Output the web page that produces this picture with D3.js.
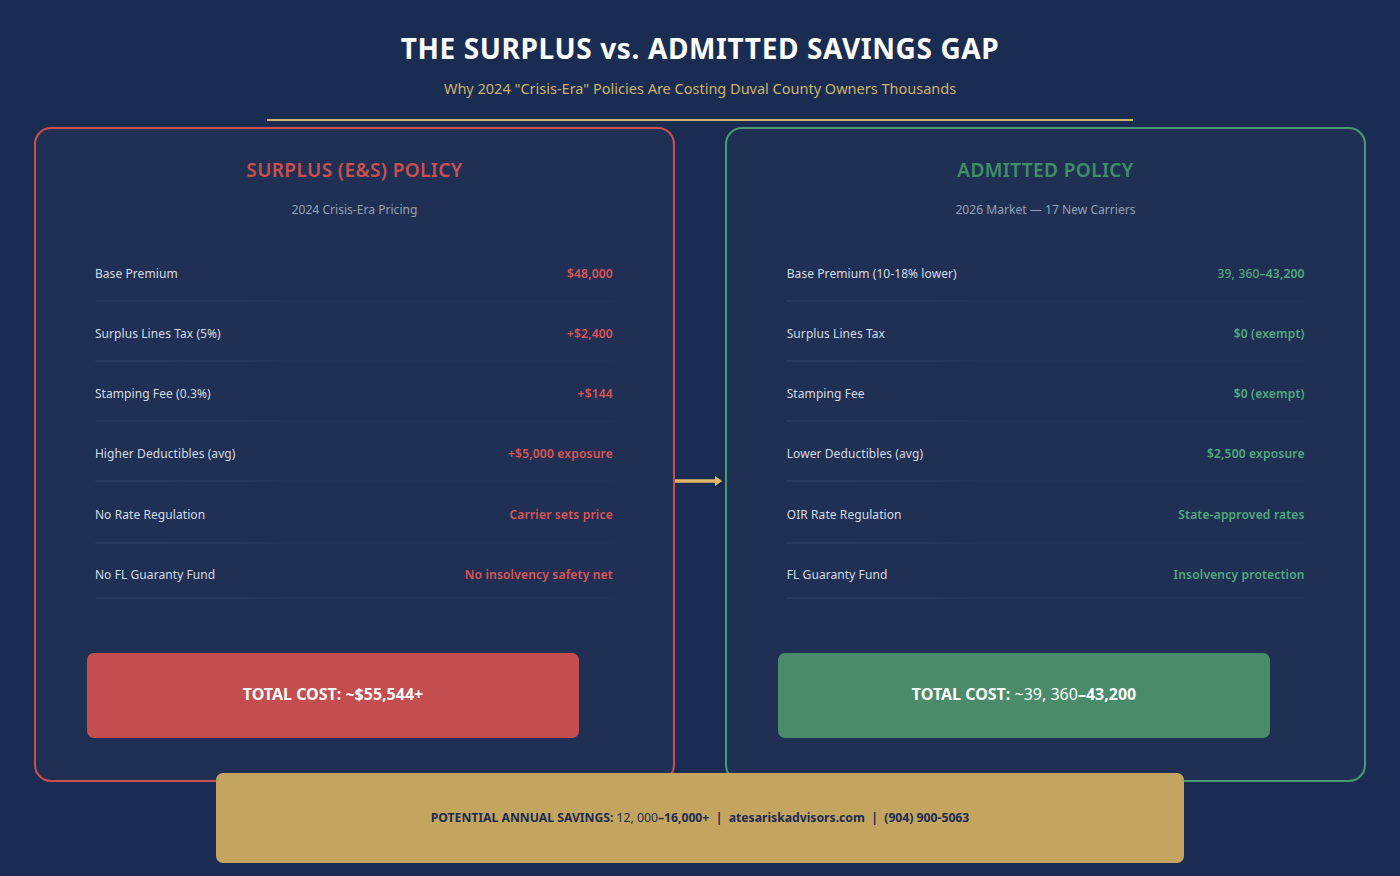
<!DOCTYPE html>
<html>
<head>
<meta charset="utf-8">
<script src="https://cdn.jsdelivr.net/npm/d3@7"></script>
<style>
html, body { margin: 0; padding: 0; background: #1b2c52; overflow: hidden; }
text { font-family: "Noto Sans", sans-serif; }
</style>
</head>
<body>
<div id="chart"></div>
<script>
var width = 1400,
	height = 876;

var titleText = "THE SURPLUS vs. ADMITTED SAVINGS GAP";
var subtitleText = "Why 2024 \"Crisis-Era\" Policies Are Costing Duval County Owners Thousands";

var surplusLabels = ["Base Premium", "Surplus Lines Tax (5%)", "Stamping Fee (0.3%)", "Higher Deductibles (avg)", "No Rate Regulation", "No FL Guaranty Fund"];
var surplusValues = ["$48,000", "+$2,400", "+$144", "+$5,000 exposure", "Carrier sets price", "No insolvency safety net"];
var admittedLabels = ["Base Premium (10-18% lower)", "Surplus Lines Tax", "Stamping Fee", "Lower Deductibles (avg)", "OIR Rate Regulation", "FL Guaranty Fund"];
var admittedValues = [[["39, 360", 500], ["–43,200", 600]], "$0 (exempt)", "$0 (exempt)", "$2,500 exposure", "State-approved rates", "Insolvency protection"];

var rowCentres = [274, 334, 394, 454, 514.5, 574.5];
var dividers = [300.5, 360.5, 420.5, 480.5, 542.5, 597.5];

var gold = "#c4a560", navy = "#1b2c52";

var surplusColours = { border: "#cc4f4f", heading: "#cc4f4f", value: "#dd5555", box: "#c44d4f" };
var admittedColours = { border: "#4a9a70", heading: "#3f8f66", value: "#52aa7e", box: "#4a8c6a" };

var svg = d3.select("#chart").append("svg")
	.attr("width", width)
	.attr("height", height)
	.style("display", "block");

var defs = svg.append("defs");
var fade = defs.append("linearGradient").attr("id", "rowFade");
fade.append("stop").attr("offset", "0%").attr("stop-color", "#5d7396").attr("stop-opacity", 0.28);
fade.append("stop").attr("offset", "32%").attr("stop-color", "#5d7396").attr("stop-opacity", 0.22);
fade.append("stop").attr("offset", "37%").attr("stop-color", "#5d7396").attr("stop-opacity", 0.05);
fade.append("stop").attr("offset", "100%").attr("stop-color", "#5d7396").attr("stop-opacity", 0.05);

svg.append("rect").attr("width", width).attr("height", height).attr("fill", navy);

svg.append("text").attr("x", 700).attr("y", 59).attr("text-anchor", "middle")
	.attr("font-size", 28).attr("letter-spacing", 0.62).attr("font-weight", 700).attr("fill", "#ffffff").text(titleText);
svg.append("text").attr("x", 700).attr("y", 94).attr("text-anchor", "middle")
	.attr("font-size", 14.5).attr("fill", "#cdb26a").text(subtitleText);
svg.append("rect").attr("x", 267).attr("y", 119).attr("width", 866).attr("height", 2).attr("fill", "#d0b56e");

function drawPanel(x, colours, heading, sub, labels, values, totalParts, dx) {
	var g = svg.append("g").attr("transform", "translate(" + x + ",0)");
	g.append("rect").attr("x", 0).attr("y", 128).attr("width", 639).attr("height", 653)
		.attr("rx", 16).attr("fill", "#1f3054").attr("stroke", colours.border).attr("stroke-width", 2);
	g.append("text").attr("x", 319.5).attr("y", 176.5).attr("text-anchor", "middle")
		.attr("font-size", 19).attr("font-weight", 600).attr("letter-spacing", 0.4).attr("fill", colours.heading).text(heading);
	g.append("text").attr("x", 319.5).attr("y", 214).attr("text-anchor", "middle")
		.attr("font-size", 12.1).attr("fill", "#95a1b5").text(sub);

	var yScale = d3.scaleOrdinal().domain(labels).range(rowCentres);
	var lineScale = d3.scaleOrdinal().domain(labels).range(dividers);

	g.selectAll(".rowline").data(labels).enter().append("rect")
		.attr("class", "rowline")
		.attr("x", 60.5).attr("width", 518)
		.attr("y", function(d) { return lineScale(d); })
		.attr("height", 1)
		.attr("fill", "url(#rowFade)");

	g.selectAll(".rowlabel").data(labels).enter().append("text")
		.attr("class", "rowlabel")
		.attr("x", 60.5 + dx)
		.attr("y", function(d) { return yScale(d) + 4.3; })
		.attr("font-size", 12)
		.attr("letter-spacing", 0.08)
		.attr("fill", "#d5dbe5")
		.text(function(d) { return d; });

	g.selectAll(".rowvalue").data(values).enter().append("text")
		.attr("class", "rowvalue")
		.attr("x", 578.5 + dx)
		.attr("y", function(d, i) { return yScale(labels[i]) + 4.3; })
		.attr("text-anchor", "end")
		.attr("font-size", 12)
		.attr("font-weight", 600)
		.attr("letter-spacing", 0.2)
		.attr("fill", colours.value)
		.each(function(d) {
			var t = d3.select(this);
			if (typeof d == "string") t.text(d);
			else d.forEach(function(p) { t.append("tspan").attr("font-weight", p[1]).text(p[0]); });
		});

	g.append("rect").attr("x", 52).attr("y", 653).attr("width", 492).attr("height", 85)
		.attr("rx", 7).attr("fill", colours.box);
	var total = g.append("text").attr("x", 298).attr("y", 700).attr("text-anchor", "middle")
		.attr("font-size", 16).attr("font-weight", 700).attr("fill", "#ffffff");
	totalParts.forEach(function(p) {
		total.append("tspan").attr("font-weight", p[1]).text(p[0]);
	});
}

drawPanel(35, surplusColours, "SURPLUS (E&S) POLICY", "2024 Crisis-Era Pricing", surplusLabels, surplusValues,
	[["TOTAL COST: ~$55,544+", 700]], -0.6);
drawPanel(726, admittedColours, "ADMITTED POLICY", "2026 Market — 17 New Carriers", admittedLabels, admittedValues,
	[["TOTAL COST: ", 700], ["~39, 360", 400], ["–43,200", 700]], 0.2);

// arrow between the panels
svg.append("line").attr("x1", 675).attr("x2", 716).attr("y1", 481).attr("y2", 481)
	.attr("stroke", "#e0b868").attr("stroke-width", 3.5);
svg.append("path").attr("d", d3.line()([[715, 476], [722.2, 481], [715, 486]])).attr("fill", "#e0b868");

// savings banner
svg.append("rect").attr("x", 216).attr("y", 773).attr("width", 968).attr("height", 90)
	.attr("rx", 7).attr("fill", gold);
var banner = svg.append("text").attr("x", 700).attr("y", 822).attr("text-anchor", "middle")
	.attr("font-size", 12.2).attr("font-weight", 700).attr("fill", navy);
[["POTENTIAL ANNUAL SAVINGS: ", 700], ["12, 000", 400], ["–16,000+  |  atesariskadvisors.com  |  (904) 900-5063", 700]].forEach(function(p) {
	banner.append("tspan").attr("font-weight", p[1]).attr("xml:space", "preserve").style("white-space", "pre").text(p[0]);
});
</script>
</body>
</html>
